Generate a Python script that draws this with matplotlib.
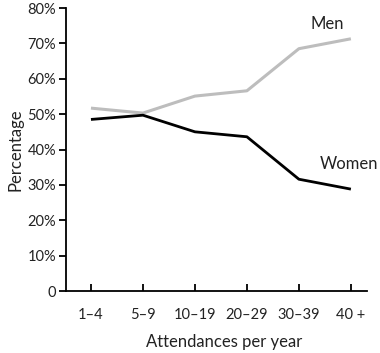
import numpy as np
import matplotlib.pyplot as plt
from matplotlib.ticker import FuncFormatter

plt.rcParams['font.family'] = ['Lato', 'DejaVu Sans']

categories = ['1\u20134', '5\u20139', '10\u201319', '20\u201329', '30\u201339', '40 +']
men = [51.7, 50.3, 55.1, 56.6, 68.5, 71.3]
women = [48.5, 49.7, 45.0, 43.6, 31.6, 28.8]

fig = plt.figure(figsize=(3.8, 3.53), dpi=100)
ax = fig.add_axes([0.1737, 0.1756, 0.7921, 0.8017])

x = np.arange(len(categories))
ax.plot(x, men, color='#bdbdbd', lw=2.2, solid_capstyle='butt')
ax.plot(x, women, color='black', lw=2.0, solid_capstyle='butt')

ax.text(4.54, 75.4, 'Men', fontsize=12, ha='center', va='center', color='#222222')
ax.text(4.97, 35.9, 'Women', fontsize=12, ha='center', va='center', color='#222222')

ax.set_xlim(-0.48, 5.31)
ax.set_ylim(0, 80)
ax.set_xticks(x)
ax.set_xticklabels(categories)
ax.set_yticks(np.arange(0, 81, 10))
ax.yaxis.set_major_formatter(FuncFormatter(lambda v, p: '0' if v == 0 else '{:.0f}%'.format(v)))

for s in ['top', 'right']:
    ax.spines[s].set_visible(False)
for s in ['left', 'bottom']:
    ax.spines[s].set_linewidth(1.3)

ax.tick_params(axis='x', direction='in', length=5, width=1.3, pad=12, labelsize=10.5, labelcolor='#222222')
ax.tick_params(axis='y', direction='out', length=5, width=1.3, pad=2, labelsize=10.5, labelcolor='#222222')

ax.set_xlabel('Attendances per year', fontsize=12, color='#222222')
ax.xaxis.set_label_coords(0.525, -0.152)
ax.set_ylabel('Percentage', fontsize=12, labelpad=3, color='#222222')

fig.savefig('out.png', dpi=100)
